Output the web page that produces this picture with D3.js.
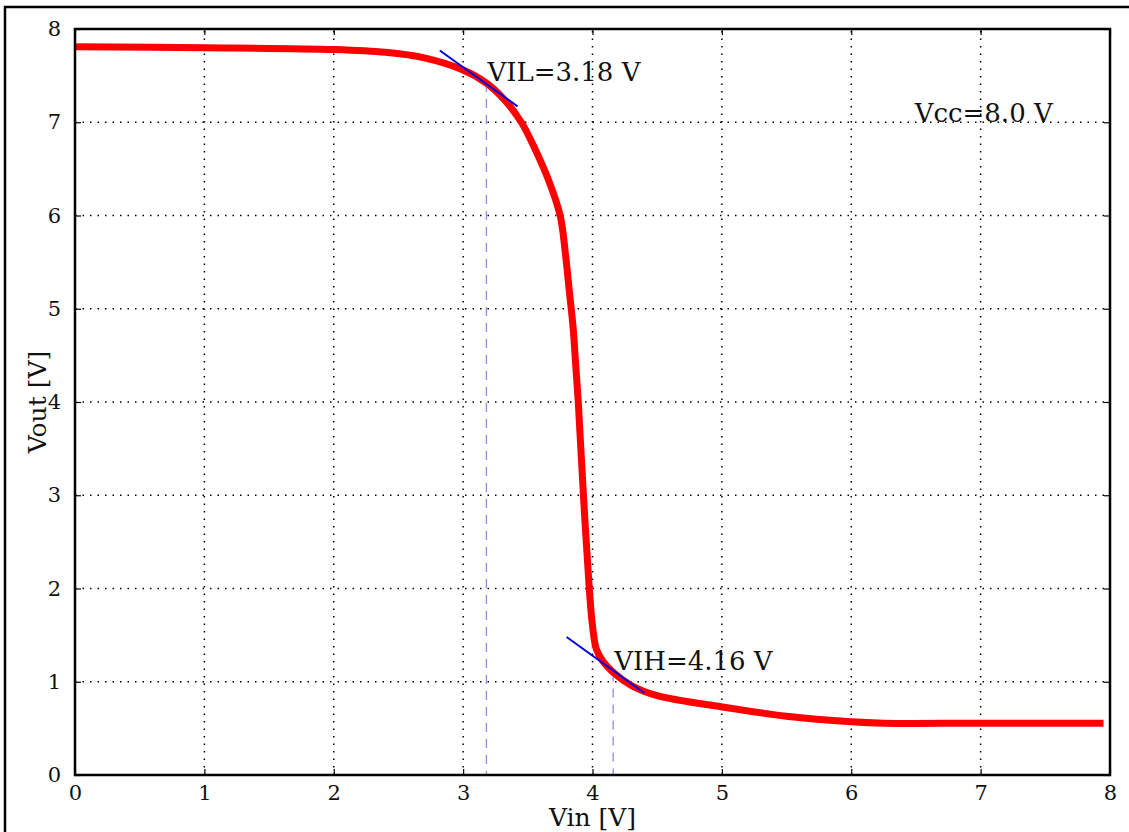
<!DOCTYPE html>
<html>
<head>
<meta charset="utf-8">
<script src="https://cdn.jsdelivr.net/npm/d3@7"></script>
<style>
  body { margin: 0; background: #fff; }
  svg text { font-family: "DejaVu Serif", serif; fill: #111; }
</style>
</head>
<body>
<script>
// transfer curve
var vin  = [0, 1, 2, 2.4, 2.7, 3.0, 3.18, 3.32, 3.45, 3.56, 3.66, 3.75, 3.79, 3.82, 3.85, 3.87, 3.89, 3.93, 3.975, 4.0, 4.03, 4.08, 4.16, 4.3, 4.5, 5.0, 5.5, 6.0, 6.25, 7.0, 7.95];
var vout = [7.81, 7.80, 7.78, 7.75, 7.69, 7.56, 7.42, 7.24, 7.0, 6.7, 6.38, 6.0, 5.6, 5.2, 4.8, 4.4, 4.0, 3.0, 2.0, 1.6, 1.35, 1.22, 1.1, 0.96, 0.85, 0.73, 0.63, 0.57, 0.555, 0.555, 0.555];

// tangent segments (slope -1) and their markers
var tangentX = [[2.82, 3.42], [3.80, 4.40]];
var tangentY = [[7.77, 7.17], [1.48, 0.88]];
var markX = [3.18, 4.16];
var markY = [7.42, 1.10];
var markLabels = ["VIL=3.18 V", "VIH=4.16 V"];

var xTicks = [0, 1, 2, 3, 4, 5, 6, 7, 8];
var yTicks = [0, 1, 2, 3, 4, 5, 6, 7, 8];

var w = 1129, h = 832;
var svg = d3.select("body").append("svg")
    .attr("width", w)
    .attr("height", h);

//outer frame
svg.append("rect")
    .attr("x", 5).attr("y", 7)
    .attr("width", 1140).attr("height", 840)
    .style("fill", "none")
    .style("stroke", "#000")
    .style("stroke-width", 2.5);

var x = d3.scaleLinear().domain([0, 8]).range([75, 1110]);
var y = d3.scaleLinear().domain([0, 8]).range([775, 29]);

//grid lines
svg.append("g").selectAll("line")
    .data(xTicks.slice(1, -1))
    .enter().append("line")
    .attr("x1", function(d){ return x(d); })
    .attr("x2", function(d){ return x(d); })
    .attr("y1", y(0)).attr("y2", y(8))
    .style("stroke", "#000")
    .style("stroke-width", 1.5)
    .style("stroke-dasharray", "1.5,6");
svg.append("g").selectAll("line")
    .data(yTicks.slice(1, -1))
    .enter().append("line")
    .attr("y1", function(d){ return y(d); })
    .attr("y2", function(d){ return y(d); })
    .attr("x1", x(0)).attr("x2", x(8))
    .style("stroke", "#000")
    .style("stroke-width", 1.5)
    .style("stroke-dasharray", "1.5,6");

//axes with inward ticks on all four sides
function styleAxis(g){
    g.attr("font-family", "DejaVu Serif").attr("font-size", 20);
    g.select(".domain").remove();
    g.selectAll(".tick line").style("stroke", "#000").style("stroke-width", 1.2);
    g.selectAll(".tick text")
        .style("font-family", "'DejaVu Serif', serif")
        .style("font-size", "21px")
        .style("fill", "#111");
}
svg.append("g")
    .attr("transform", "translate(0," + y(0) + ")")
    .call(d3.axisBottom(x).tickValues(xTicks).tickFormat(d3.format("d")).tickSizeInner(-6).tickPadding(10))
    .call(styleAxis);
svg.append("g")
    .attr("transform", "translate(0," + y(8) + ")")
    .call(d3.axisTop(x).tickValues(xTicks).tickFormat("").tickSizeInner(-6))
    .call(styleAxis);
svg.append("g")
    .attr("transform", "translate(" + x(0) + ",0)")
    .call(d3.axisLeft(y).tickValues(yTicks).tickFormat(d3.format("d")).tickSizeInner(-6).tickPadding(14))
    .call(styleAxis);
svg.append("g")
    .attr("transform", "translate(" + x(8) + ",0)")
    .call(d3.axisRight(y).tickValues(yTicks).tickFormat("").tickSizeInner(-6))
    .call(styleAxis);

//dashed markers down to the axis
svg.append("g").selectAll("line")
    .data(markX)
    .enter().append("line")
    .attr("x1", function(d){ return x(d); })
    .attr("x2", function(d){ return x(d); })
    .attr("y1", function(d, i){ return y(markY[i]); })
    .attr("y2", y(0))
    .style("stroke", "#8c8cf0")
    .style("stroke-width", 1.3)
    .style("stroke-dasharray", "9,7");

//the curve
var pts = vin.map(function(d, i){ return [d, vout[i]]; });
var line = d3.line()
    .x(function(d){ return x(d[0]); })
    .y(function(d){ return y(d[1]); })
    .curve(d3.curveCatmullRom.alpha(0.5));
svg.append("path")
    .datum(pts)
    .attr("d", line)
    .style("fill", "none")
    .style("stroke", "#ff0000")
    .style("stroke-width", 7)
    .style("stroke-linejoin", "round");

//tangent lines
svg.append("g").selectAll("line")
    .data(tangentX)
    .enter().append("line")
    .attr("x1", function(d){ return x(d[0]); })
    .attr("x2", function(d){ return x(d[1]); })
    .attr("y1", function(d, i){ return y(tangentY[i][0]); })
    .attr("y2", function(d, i){ return y(tangentY[i][1]); })
    .style("stroke", "#0000dd")
    .style("stroke-width", 2);

//plot frame
svg.append("rect")
    .attr("x", x(0)).attr("y", y(8))
    .attr("width", x(8) - x(0)).attr("height", y(0) - y(8))
    .style("fill", "none")
    .style("stroke", "#000")
    .style("stroke-width", 2.5);

//annotations
svg.selectAll(".mark")
    .data(markLabels)
    .enter().append("text")
    .attr("class", "mark")
    .attr("x", function(d, i){ return x(markX[i]) + 1; })
    .attr("y", function(d, i){ return y(markY[i]) - 2; })
    .style("font-size", "26px")
    .text(function(d){ return d; });

svg.append("text")
    .attr("x", x(6.49))
    .attr("y", y(7.0))
    .style("font-size", "26px")
    .text("Vcc=8.0 V");

//axis titles
svg.append("text")
    .attr("text-anchor", "middle")
    .attr("x", (x(0) + x(8)) / 2)
    .attr("y", 826)
    .style("font-size", "25px")
    .text("Vin [V]");
svg.append("text")
    .attr("text-anchor", "middle")
    .attr("transform", "translate(46," + ((y(0) + y(8)) / 2) + ") rotate(-90)")
    .style("font-size", "25px")
    .text("Vout [V]");
</script>
</body>
</html>
